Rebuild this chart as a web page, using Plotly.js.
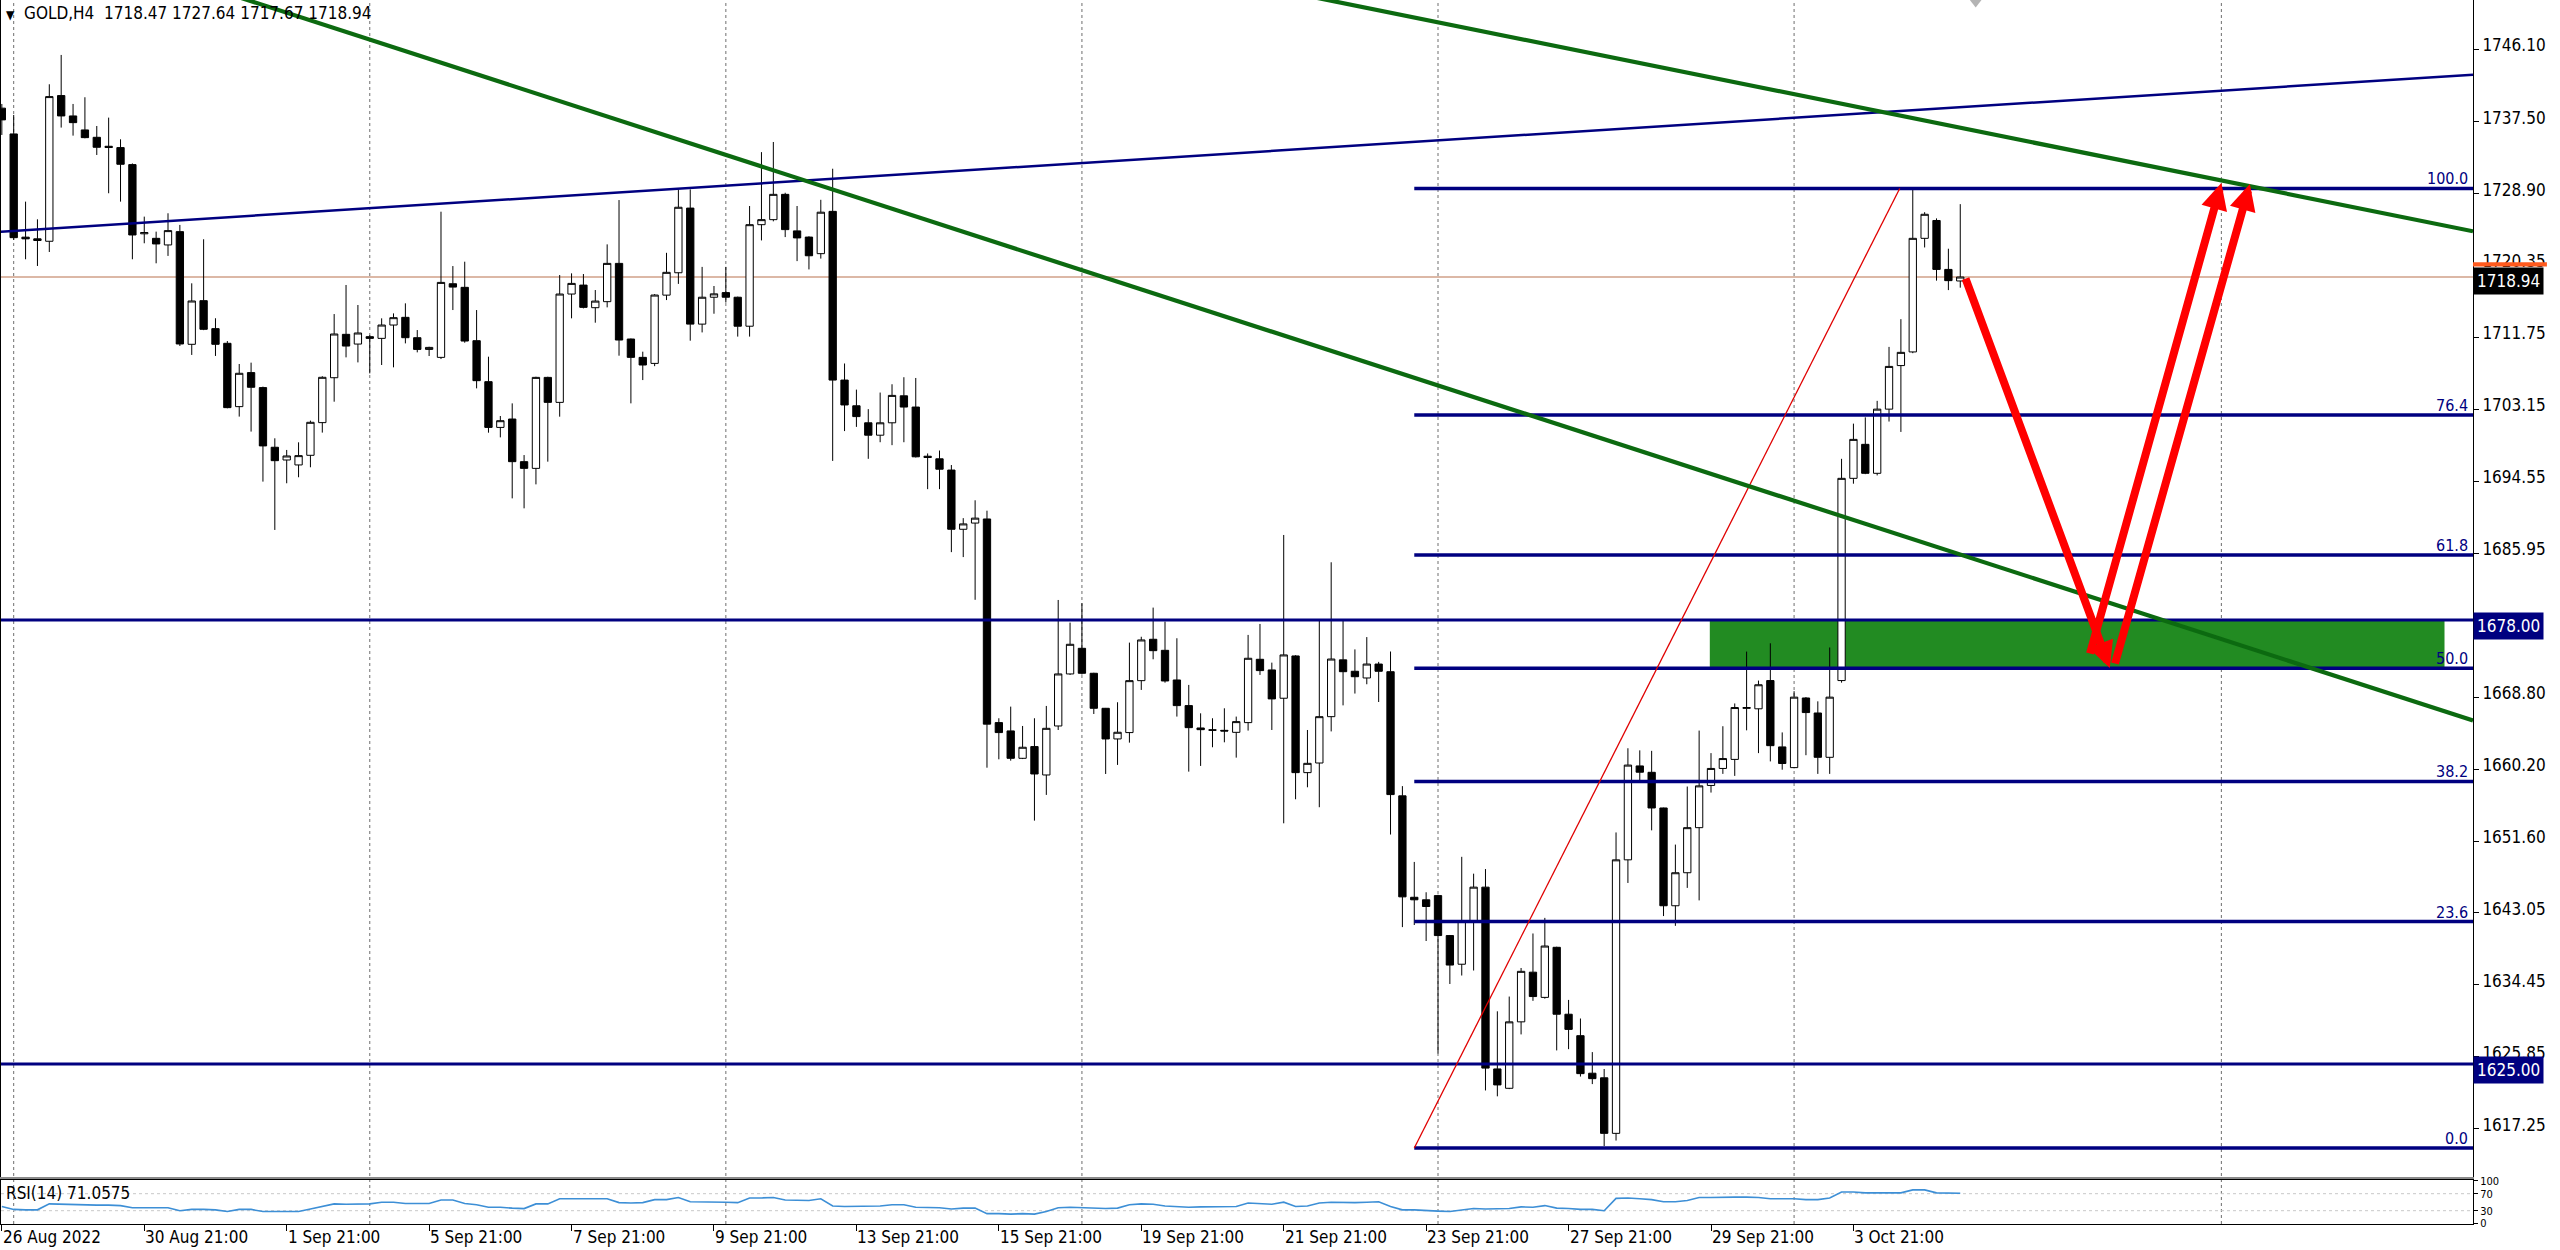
<!DOCTYPE html>
<html><head><meta charset="utf-8">
<script src="https://cdn.plot.ly/plotly-3.0.1.min.js"></script>
<style>html,body{margin:0;padding:0;background:#fff;overflow:hidden}#chart{width:2560px;height:1250px}</style>
</head><body><div id="chart"></div>
<script>
// ---- OHLC (GOLD, H4), one value per bar ----
const openP = [1739.10,1736.02,1723.70,1723.50,1723.21,1740.60,1738.17,1736.50,1735.62,1734.55,
1734.39,1732.36,1724.10,1723.56,1722.77,1724.36,1710.91,1716.12,1712.78,1711.03,
1703.47,1707.53,1705.74,1698.62,1697.10,1696.51,1697.66,1701.56,1706.92,1712.10,
1710.94,1711.82,1711.62,1713.21,1714.13,1711.70,1710.30,1709.35,1718.14,1717.71,
1711.34,1706.45,1700.99,1701.99,1696.90,1696.10,1706.96,1703.98,1716.91,1717.98,
1715.28,1716.00,1720.57,1711.54,1709.35,1708.63,1716.78,1719.45,1727.17,1713.32,
1716.53,1717.08,1716.53,1713.07,1725.19,1725.79,1728.81,1724.45,1723.71,1721.73,
1726.78,1706.64,1703.57,1701.54,1700.06,1701.54,1704.76,1703.42,1697.55,1697.24,
1695.90,1688.83,1689.57,1690.06,1665.75,1664.76,1661.49,1662.89,1659.50,1665.35,
1671.56,1674.62,1671.64,1667.46,1663.80,1664.56,1670.76,1675.70,1674.38,1670.84,
1667.78,1665.11,1664.90,1664.83,1664.59,1665.75,1673.31,1672.04,1668.66,1673.71,
1659.78,1660.93,1666.46,1673.24,1671.88,1671.08,1672.74,1671.83,1657.01,1644.90,
1644.60,1645.10,1640.33,1636.91,1642.09,1646.11,1624.41,1622.10,1630.03,1635.96,
1632.95,1638.93,1630.94,1628.38,1623.90,1623.35,1616.72,1649.37,1660.58,1659.82,
1655.56,1643.89,1647.83,1653.21,1658.25,1660.28,1661.36,1667.45,1667.40,1670.77,
1662.85,1660.38,1668.69,1666.90,1661.61,1670.77,1694.91,1698.97,1695.51,1703.17,
1708.37,1710.00,1723.56,1725.69,1719.85,1718.47];
const highP = [1739.60,1738.29,1727.94,1725.83,1741.95,1745.45,1739.60,1740.40,1736.97,1737.97,
1735.38,1732.50,1726.15,1724.36,1726.55,1725.16,1718.19,1723.45,1714.02,1711.30,
1708.56,1708.72,1705.86,1699.69,1698.30,1699.21,1701.80,1707.10,1714.52,1717.99,
1715.60,1712.00,1714.01,1714.60,1715.80,1712.61,1710.62,1726.74,1720.25,1720.77,
1715.00,1709.43,1702.35,1703.86,1697.69,1707.04,1707.04,1719.18,1719.38,1719.30,
1717.39,1722.84,1728.13,1711.60,1710.03,1716.90,1721.83,1729.40,1729.40,1720.15,
1717.87,1720.15,1716.60,1727.42,1733.85,1735.06,1729.00,1727.42,1723.80,1728.16,
1731.87,1708.62,1705.50,1703.17,1705.15,1706.14,1706.98,1706.89,1697.88,1698.23,
1696.50,1690.16,1692.29,1691.05,1666.27,1667.66,1665.35,1666.27,1667.74,1680.39,
1677.69,1680.00,1671.70,1667.50,1668.18,1675.30,1676.00,1679.48,1677.81,1675.82,
1670.25,1666.86,1666.27,1667.46,1666.47,1676.22,1677.53,1672.91,1688.15,1673.80,
1664.87,1678.01,1684.89,1678.11,1674.49,1675.96,1673.00,1674.24,1658.17,1649.12,
1645.50,1645.20,1640.40,1649.73,1647.72,1648.27,1631.29,1633.05,1636.46,1640.58,
1642.44,1639.00,1632.65,1630.43,1626.42,1624.40,1652.64,1662.69,1662.44,1662.38,
1655.60,1651.19,1658.12,1664.80,1662.11,1665.32,1668.04,1674.23,1670.77,1675.22,
1664.58,1669.50,1668.80,1668.29,1674.72,1697.24,1701.44,1702.19,1704.16,1710.60,
1713.91,1729.40,1726.68,1725.94,1722.32,1727.64];
const lowP = [1735.90,1723.37,1721.06,1720.26,1721.93,1736.78,1735.82,1735.50,1733.51,1728.94,
1727.94,1721.06,1722.97,1720.58,1721.46,1710.71,1709.64,1712.60,1709.52,1703.27,
1702.28,1700.49,1694.52,1688.75,1694.32,1695.04,1696.23,1700.37,1704.06,1709.35,
1708.75,1707.44,1708.44,1708.16,1711.02,1709.95,1709.51,1709.15,1715.00,1711.10,
1705.65,1700.36,1699.80,1692.52,1691.33,1694.19,1696.90,1702.27,1714.01,1715.20,
1713.49,1715.32,1709.55,1703.86,1706.64,1708.30,1716.19,1718.12,1711.34,1712.33,
1714.56,1715.90,1711.83,1711.83,1723.31,1725.59,1723.71,1720.84,1719.85,1721.14,
1696.99,1700.55,1701.05,1697.24,1699.22,1698.87,1699.22,1697.40,1693.62,1693.62,
1686.10,1685.51,1680.41,1660.37,1661.37,1661.21,1661.40,1654.05,1657.12,1664.87,
1671.44,1671.50,1666.78,1659.62,1660.70,1663.36,1669.65,1673.31,1670.52,1666.47,
1659.90,1660.58,1662.81,1663.40,1661.57,1664.80,1671.44,1664.87,1653.73,1656.60,
1658.03,1655.65,1664.70,1667.81,1669.22,1670.33,1668.21,1652.39,1641.34,1641.59,
1639.68,1626.26,1634.55,1635.56,1636.16,1621.84,1621.14,1622.00,1628.53,1632.54,
1632.80,1626.62,1626.77,1623.50,1622.60,1615.21,1615.86,1646.61,1658.77,1652.89,
1642.66,1641.49,1646.02,1644.53,1657.40,1659.63,1659.39,1664.83,1662.11,1661.12,
1660.13,1660.30,1661.86,1659.63,1659.63,1670.52,1694.27,1695.41,1695.26,1701.69,
1700.45,1709.85,1722.47,1718.51,1717.38,1717.67];
const closeP = [1737.70,1723.64,1723.50,1723.30,1740.48,1738.17,1737.37,1735.58,1734.43,1734.40,
1732.40,1723.96,1724.25,1722.89,1724.48,1710.95,1716.08,1712.70,1710.91,1703.35,
1707.45,1705.78,1698.78,1697.02,1697.58,1697.62,1701.60,1706.97,1712.14,1710.70,
1712.26,1711.62,1713.21,1714.09,1711.70,1710.30,1710.54,1718.30,1717.74,1711.30,
1706.57,1700.99,1701.79,1696.90,1696.10,1706.96,1703.98,1716.91,1718.18,1715.32,
1716.07,1720.57,1711.42,1709.35,1708.44,1716.79,1719.50,1727.27,1713.32,1716.53,
1716.93,1716.53,1713.07,1725.19,1725.79,1728.81,1724.60,1723.61,1721.48,1726.68,
1706.64,1703.67,1702.28,1700.06,1701.54,1704.81,1703.42,1697.48,1697.40,1696.00,
1688.83,1689.47,1690.16,1665.57,1664.56,1661.49,1662.81,1659.62,1665.07,1671.56,
1675.10,1671.64,1667.46,1663.80,1664.60,1670.76,1675.62,1674.34,1670.72,1667.78,
1665.15,1664.91,1664.84,1664.75,1665.87,1673.43,1671.96,1668.58,1673.83,1659.78,
1660.89,1666.46,1673.34,1671.83,1671.23,1672.74,1671.88,1657.16,1644.95,1644.60,
1643.80,1640.33,1636.81,1642.09,1646.11,1624.51,1622.50,1630.03,1636.06,1633.05,
1639.08,1630.94,1629.13,1623.85,1623.25,1616.72,1649.37,1660.68,1659.83,1655.56,
1643.89,1647.83,1653.21,1658.20,1660.28,1661.46,1667.55,1667.55,1670.27,1663.00,
1660.87,1668.79,1666.95,1661.61,1668.79,1694.91,1699.56,1695.51,1703.17,1708.27,
1709.95,1723.56,1726.43,1719.85,1718.51,1718.94];
// ---- RSI(14) per bar ----
const rsiValues = [40,33,32,32,46,45,44,43,43,43,42,37,37,37,37,30,33,33,32,28,
33,33,28,28,28,28,34,40,46,45,46,46,50,50,47,47,47,55,55,47,
44,38,38,36,35,46,46,58,58,57,57,58,49,48,49,56,56,61,51,51,
51,50,49,60,60,61,55,55,54,58,41,40,40,40,41,44,44,38,37,37,
34,36,36,23,23,22,23,22,28,37,38,37,36,35,36,44,46,45,41,39,
38,39,39,39,40,48,47,45,50,40,41,48,50,49,49,50,51,40,32,32,
30,29,28,31,35,34,34,35,39,38,42,36,35,33,33,30,59,60,58,56,
51,51,54,61,61,62,62,62,61,58,58,58,56,56,60,74,74,72,72,72,
72,79,79,72,71,71.06];
// ---- axis labels ----
const timeLabels = ['26 Aug 2022','30 Aug 21:00','1 Sep 21:00','5 Sep 21:00','7 Sep 21:00','9 Sep 21:00',
 '13 Sep 21:00','15 Sep 21:00','19 Sep 21:00','21 Sep 21:00','23 Sep 21:00','27 Sep 21:00','29 Sep 21:00','3 Oct 21:00'];
const timeLabelBars = [0,12,24,36,48,60,72,84,96,108,120,132,144,156];
const gridBars = [1,31,61,91,121,151,187];
const priceTicks = [1746.10,1737.50,1728.90,1720.35,1711.75,1703.15,1694.55,1685.95,1677.40,1668.80,1660.20,1651.60,1643.05,1634.45,1625.85,1617.25];
const hiddenTicks = [1677.40]; // covered by the 1678.00 level box in the picture
const rsiTicks = [100,70,30,0];
// ---- drawn objects ----
const fibPercents = [0.0,23.6,38.2,50.0,61.8,76.4,100.0];
const fibLowPrice = 1614.97, fibHighPrice = 1729.51;
const fibBars = [119.0, 159.9];
const levelPrices = [1678.00, 1625.00];
const lastPrice = 1718.94;
const blueTrendBars = [-0.15, 208.2], blueTrendPrices = [1724.35, 1743.10];
const greenTrend1Bars = [14.17, 208.2], greenTrend1Prices = [1755.0, 1666.0];
const greenTrend2Bars = [100.96, 208.2], greenTrend2Prices = [1755.08, 1724.4];
const zoneBars = [143.9, 205.8], zonePrices = [1672.24, 1678.00];
const arrowDown = {fromBar:165.4, fromPrice:1718.94, toBar:177.6, toPrice:1672.27};
const arrowUp1 = {fromBar:175.9, fromPrice:1673.82, toBar:187.0, toPrice:1730.17};
const arrowUp2 = {fromBar:178.0, fromPrice:1672.63, toBar:189.4, toPrice:1730.05};

const bars = openP.map((_, i) => i);
const XR = [-0.07, 208.2];
const NAVY = '#000080';
const FONT = 'DejaVu Sans Condensed, DejaVu Sans, sans-serif';

const traces = [];
traces.push({type:'candlestick', x:bars, open:openP, high:highP, low:lowP, close:closeP,
  xaxis:'x', yaxis:'y', whiskerwidth:0, hoverinfo:'skip',
  increasing:{line:{color:'#000', width:1}, fillcolor:'#ffffff'},
  decreasing:{line:{color:'#000', width:1}, fillcolor:'#000000'}});
const fibPrice = p => fibLowPrice + (fibHighPrice - fibLowPrice) * p / 100;
fibPercents.forEach(p => traces.push({type:'scatter', mode:'lines', x:[fibBars[0], XR[1]], y:[fibPrice(p), fibPrice(p)],
  xaxis:'x', yaxis:'y', line:{color:NAVY, width:3.5}, hoverinfo:'skip'}));
levelPrices.forEach(v => traces.push({type:'scatter', mode:'lines', x:XR, y:[v, v],
  xaxis:'x', yaxis:'y', line:{color:NAVY, width:3}, hoverinfo:'skip'}));
traces.push({type:'scatter', mode:'lines', x:fibBars, y:[fibLowPrice, fibHighPrice], xaxis:'x', yaxis:'y',
  line:{color:'#e00000', width:1.3}, hoverinfo:'skip'});
traces.push({type:'scatter', mode:'lines', x:blueTrendBars, y:blueTrendPrices, xaxis:'x', yaxis:'y',
  line:{color:NAVY, width:2.5}, hoverinfo:'skip'});
traces.push({type:'scatter', mode:'lines', x:greenTrend1Bars, y:greenTrend1Prices, xaxis:'x', yaxis:'y',
  line:{color:'#0c6a10', width:4.2}, hoverinfo:'skip'});
traces.push({type:'scatter', mode:'lines', x:greenTrend2Bars, y:greenTrend2Prices, xaxis:'x', yaxis:'y',
  line:{color:'#0c6a10', width:4.2}, hoverinfo:'skip'});
traces.push({type:'scatter', mode:'markers', x:[166.3], y:[1752.3], xaxis:'x', yaxis:'y',
  marker:{symbol:'triangle-down', size:20, color:'#b4b4b4'}, hoverinfo:'skip'});
traces.push({type:'scatter', mode:'lines', x:bars, y:rsiValues, xaxis:'x2', yaxis:'y2',
  line:{color:'#3d8fd6', width:1.6}, hoverinfo:'skip'});

const shapes = [];
shapes.push({type:'rect', xref:'x', yref:'y', x0:zoneBars[0], x1:zoneBars[1], y0:zonePrices[0], y1:zonePrices[1],
  fillcolor:'#228b22', line:{width:0}, layer:'below'});
shapes.push({type:'line', xref:'paper', yref:'y', x0:0, x1:1, y0:lastPrice, y1:lastPrice,
  line:{color:'#dcb8a6', width:2}, layer:'below'});
gridBars.forEach(b => shapes.push({type:'line', xref:'x', yref:'paper', x0:b, x1:b, y0:0, y1:1,
  line:{color:'#6e6e6e', width:1, dash:'3px,3px'}, layer:'below'}));
[70,30].forEach(v => shapes.push({type:'line', xref:'paper', yref:'y2', x0:0, x1:1, y0:v, y1:v,
  line:{color:'#c8c8c8', width:1, dash:'dot'}, layer:'below'}));
shapes.push({type:'rect', xref:'paper', yref:'y', x0:1, x1:1.0299, y0:1720.21, y1:1720.7,
  fillcolor:'#ff5a1e', line:{width:0}, layer:'above'});

const annotations = [];
annotations.push({xref:'paper', yref:'paper', x:0, y:1, xanchor:'left', yanchor:'top', xshift:3, yshift:-1, showarrow:false,
  text:'<span style="font-size:12px">▼</span>\u00a0\u00a0GOLD,H4\u00a0\u00a01718.47 1727.64 1717.67 1718.94',
  font:{family:FONT, size:17, color:'#000'}});
annotations.push({xref:'paper', yref:'paper', x:0, y:(1224-1193)/1224, xanchor:'left', yanchor:'middle', xshift:3, showarrow:false,
  text:'RSI(14) 71.0575', font:{family:FONT, size:17, color:'#000'}});
timeLabels.forEach((t, i) => annotations.push({xref:'x2', yref:'paper', x:timeLabelBars[i], y:-13/1224,
  xanchor:'left', yanchor:'middle', xshift:-1, showarrow:false, text:t, font:{family:FONT, size:17, color:'#000'}}));
fibPercents.forEach(p => annotations.push({xref:'paper', yref:'y', x:1, y:fibPrice(p), xanchor:'right', yanchor:'bottom',
  xshift:-3, yshift:-2, showarrow:false, text:p.toFixed(1), font:{family:FONT, size:16, color:NAVY}}));
levelPrices.forEach(v => annotations.push({xref:'paper', yref:'y', x:1, y:v, xanchor:'left', yanchor:'middle', yshift:-6,
  showarrow:false, text:v.toFixed(2), bgcolor:NAVY, borderpad:3, font:{family:FONT, size:17, color:'#fff'}}));
annotations.push({xref:'paper', yref:'y', x:1, y:lastPrice, xanchor:'left', yanchor:'middle', yshift:-4,
  showarrow:false, text:lastPrice.toFixed(2), bgcolor:'#000', borderpad:3, font:{family:FONT, size:17, color:'#fff'}});
[arrowDown, arrowUp1, arrowUp2].forEach(a => annotations.push({xref:'x', yref:'y', axref:'x', ayref:'y',
  x:a.toBar, y:a.toPrice, ax:a.fromBar, ay:a.fromPrice, text:'', showarrow:true,
  arrowhead:2, arrowsize:0.66, arrowwidth:8, arrowcolor:'#ff0000', standoff:0, startstandoff:0}));

const layout = {
  width:2560, height:1250, margin:{l:1, r:87, t:0, b:26},
  paper_bgcolor:'#ffffff', plot_bgcolor:'#ffffff', showlegend:false,
  font:{family:FONT, size:17, color:'#000'},
  boxgap:0.2, boxgroupgap:0.23,
  xaxis:{domain:[0,1], range:XR, anchor:'y', showgrid:false, zeroline:false, showticklabels:false, ticks:'',
    showline:true, linecolor:'#8a8a8a', linewidth:3, rangeslider:{visible:false}, fixedrange:true},
  yaxis:{domain:[47/1224, 1], range:[1611.51, 1752.01], side:'right', anchor:'x', showgrid:false, zeroline:false,
    tickmode:'array', tickvals:priceTicks,
    ticktext:priceTicks.map(v => hiddenTicks.includes(v) ? '' : v.toFixed(2)), ticks:'outside', ticklen:5,
    tickcolor:'#000', showline:true, linecolor:'#000', linewidth:1, mirror:true, ticklabelshift:-4,
    tickfont:{family:FONT, size:17, color:'#000'}, fixedrange:true},
  xaxis2:{domain:[0,1], range:XR, anchor:'y2', showgrid:false, zeroline:false, showticklabels:false,
    tickmode:'array', tickvals:timeLabelBars, ticks:'outside', ticklen:6, tickcolor:'#000',
    showline:true, mirror:true, linecolor:'#000', linewidth:1, fixedrange:true},
  yaxis2:{domain:[0, 44/1224], range:[-1.3, 102.2], side:'right', anchor:'x2', showgrid:false, zeroline:false,
    tickmode:'array', tickvals:rsiTicks, ticks:'outside', ticklen:4, tickcolor:'#000',
    showline:true, mirror:true, linecolor:'#000', linewidth:1, tickfont:{family:FONT, size:11, color:'#000'}, fixedrange:true},
  shapes:shapes, annotations:annotations
};
Plotly.newPlot('chart', traces, layout, {staticPlot:true, displayModeBar:false});
</script>
</body></html>
